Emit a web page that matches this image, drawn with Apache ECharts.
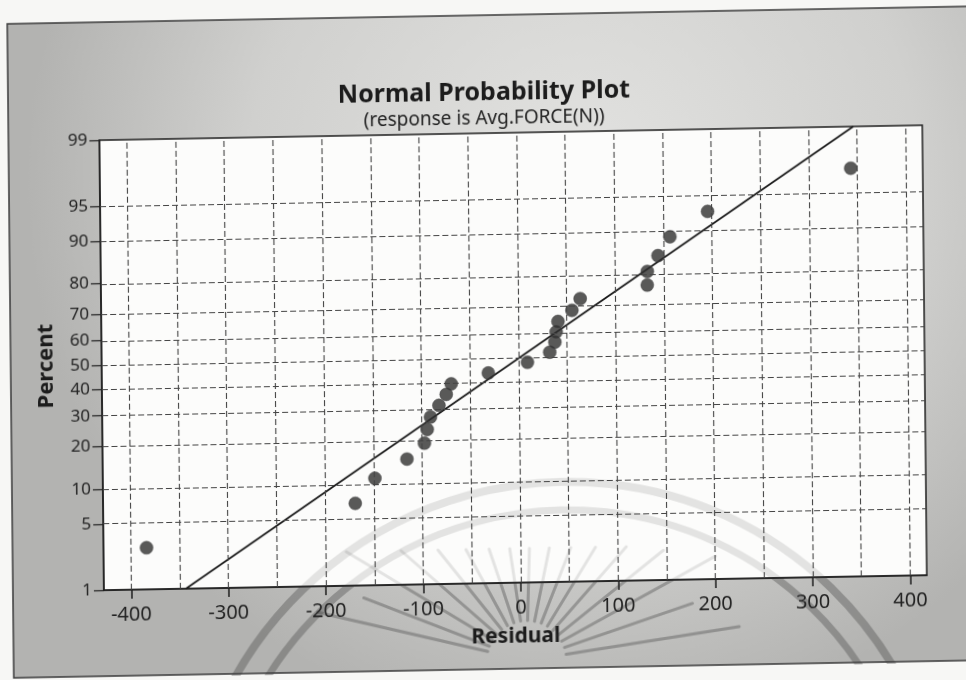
<!DOCTYPE html>
<html>
<head>
<meta charset="utf-8">
<script src="https://cdn.jsdelivr.net/npm/echarts@6/dist/echarts.min.js"></script>
<style>
  html, body { margin: 0; padding: 0; background: #f7f7f5; overflow: hidden; }
  #chart { width: 966px; height: 680px; transform-origin: 0 0; transform: matrix(1, -0.0182, 0.01, 1, 0, 0); }
</style>
</head>
<body>
<div id="chart"></div>
<script>
// Residuals of Avg.FORCE(N), sorted ascending
const residuals = [-383.8, -169.0, -148.6, -115.5, -97.4, -94.4, -90.9, -82.1, -74.5, -69.3, -31.1, 9.2,
                   32.2, 37.6, 39.0, 41.0, 55.4, 64.0, 133.0, 133.2, 144.3, 156.8, 195.7, 343.1];
// Plotting positions (percent) for each residual
const percents = [2.9, 7.0, 11.1, 15.2, 19.3, 23.4, 27.5, 31.6, 35.7, 39.8, 43.9, 48.0,
                  52.0, 56.1, 60.2, 64.3, 68.4, 72.5, 76.6, 80.7, 84.8, 88.9, 93.0, 97.1];
// Axis ticks
const percentTicks = [1, 5, 10, 20, 30, 40, 50, 60, 70, 80, 90, 95, 99];
const residualTicks = [-400, -300, -200, -100, 0, 100, 200, 300, 400];
const residualGrid = [-400, -350, -300, -250, -200, -150, -100, -50, 0, 50, 100, 150, 200, 250, 300, 350, 400];
const residualRange = [-428, 417];

// Inverse standard normal CDF (Acklam) used for the probability scale
function probit(p) {
  const a = [-3.969683028665376e+01, 2.209460984245205e+02, -2.759285104469687e+02, 1.383577518672690e+02, -3.066479806614716e+01, 2.506628277459239e+00];
  const b = [-5.447609879822406e+01, 1.615858368580409e+02, -1.556989798598866e+02, 6.680131188771972e+01, -1.328068155288572e+01];
  const c = [-7.784894002430293e-03, -3.223964580411365e-01, -2.400758277161838e+00, -2.549732539343734e+00, 4.374664141464968e+00, 2.938163982698783e+00];
  const d = [7.784695709041462e-03, 3.224671290700398e-01, 2.445134137142996e+00, 3.754408661907416e+00];
  const pl = 0.02425, ph = 1 - pl;
  let q, r;
  if (p < pl) {
    q = Math.sqrt(-2 * Math.log(p));
    return (((((c[0]*q+c[1])*q+c[2])*q+c[3])*q+c[4])*q+c[5]) / ((((d[0]*q+d[1])*q+d[2])*q+d[3])*q+1);
  }
  if (p > ph) {
    q = Math.sqrt(-2 * Math.log(1 - p));
    return -(((((c[0]*q+c[1])*q+c[2])*q+c[3])*q+c[4])*q+c[5]) / ((((d[0]*q+d[1])*q+d[2])*q+d[3])*q+1);
  }
  q = p - 0.5; r = q * q;
  return (((((a[0]*r+a[1])*r+a[2])*r+a[3])*r+a[4])*r+a[5])*q / (((((b[0]*r+b[1])*r+b[2])*r+b[3])*r+b[4])*r+1);
}
const z = pct => probit(pct / 100);

const zTicks = percentTicks.map(z);
const zMin = z(percentTicks[0]);
const zMax = z(percentTicks[percentTicks.length - 1]);

// Fitted normal line from the residuals' mean and standard deviation
const n = residuals.length;
const mean = residuals.reduce((s, v) => s + v, 0) / n;
const sd = Math.sqrt(residuals.reduce((s, v) => s + (v - mean) * (v - mean), 0) / (n - 1));

const FONT = '"Noto Sans", "Open Sans", sans-serif';
const gridDash = { color: '#444', width: 1.1, type: [6, 3] };

// Faint paper seal stamped across the lower half of the page:
// a stronger layer on the grey page and a lighter wash over the plot
function sealLayer(ink, zIndex) {
  const rays = [8, 18, 28, 38, 48, 58, 68, 78, 88, 98, 108, 118, 128, 138, 148, 158, 166];
  const arcs = [{ r: 380, w: 8 }, { r: 352, w: 7 }].map(a => ({
    type: 'arc', z: zIndex, silent: true,
    shape: { cx: 557, cy: 872, r: a.r, startAngle: Math.PI * 1.04, endAngle: Math.PI * 1.96 },
    style: { stroke: ink, lineWidth: a.w, fill: null }
  }));
  return arcs.concat(rays.map((deg, i) => {
    const t = deg * Math.PI / 180;
    const r0 = 40;
    const r1 = Math.min(i % 2 ? 175 : 215, 112 / Math.max(Math.sin(t), 0.05));
    return {
      type: 'line', z: zIndex, silent: true,
      shape: { x1: 520 + r0 * Math.cos(t), y1: 670 - r0 * Math.sin(t), x2: 520 + r1 * Math.cos(t), y2: 670 - r1 * Math.sin(t) },
      style: { stroke: ink, lineWidth: 3, lineCap: 'round' }
    };
  }));
}

const chart = echarts.init(document.getElementById('chart'), null, { renderer: 'canvas' });

chart.setOption({
  backgroundColor: 'transparent',
  animation: false,
  graphic: [
    {
      type: 'rect', z: -10, silent: true,
      shape: { x: 7, y: 24, width: 990, height: 654 },
      style: {
        fill: {
          type: 'radial', x: 0.58, y: 0.25, r: 0.85,
          colorStops: [
            { offset: 0, color: '#e2e2e0' },
            { offset: 0.6, color: '#d0d0ce' },
            { offset: 1, color: '#b3b3b1' }
          ]
        },
        stroke: '#3a3a3a', lineWidth: 1.5
      }
    }
  ].concat(sealLayer('rgba(60,60,60,0.24)', -5), sealLayer('rgba(60,60,60,0.13)', 50)),
  title: [
    {
      text: 'Normal Probability Plot', left: 'center', top: 84,
      textStyle: { fontFamily: FONT, fontSize: 25, fontWeight: 'bold', color: '#1c1c1c' }
    },
    {
      text: '(response is Avg.FORCE(N))', left: 'center', top: 113,
      textStyle: { fontFamily: FONT, fontSize: 19, fontWeight: 'normal', color: '#222' }
    }
  ],
  grid: {
    left: 98, top: 142, width: 823, height: 450,
    show: true, backgroundColor: '#fcfcfb', borderColor: '#1e1e1e', borderWidth: 1.5
  },
  xAxis: {
    type: 'value', min: residualRange[0], max: residualRange[1],
    name: 'Residual', nameLocation: 'middle', nameGap: 44,
    nameTextStyle: { fontFamily: FONT, fontSize: 21, fontWeight: 'bold', color: '#1c1c1c' },
    axisLine: { show: true, onZero: false, lineStyle: { color: '#1e1e1e', width: 1.5 } },
    axisTick: { show: true, length: 9, customValues: residualTicks, lineStyle: { color: '#1e1e1e', width: 1.5 } },
    axisLabel: { customValues: residualTicks, margin: 15, fontFamily: FONT, fontSize: 20, color: '#222' },
    splitLine: { show: false }
  },
  yAxis: {
    type: 'value', min: zMin, max: zMax,
    name: 'Percent', nameLocation: 'middle', nameRotate: 90, nameGap: 44,
    nameTextStyle: { fontFamily: FONT, fontSize: 22, fontWeight: 'bold', color: '#1c1c1c' },
    axisLine: { show: true, onZero: false, lineStyle: { color: '#1e1e1e', width: 1.5 } },
    axisTick: { show: true, length: 10, customValues: zTicks, lineStyle: { color: '#1e1e1e', width: 1.2 } },
    axisLabel: {
      customValues: zTicks, margin: 12, fontFamily: FONT, fontSize: 17, color: '#222',
      formatter: v => {
        let best = 0;
        zTicks.forEach((t, i) => { if (Math.abs(t - v) < Math.abs(zTicks[best] - v)) best = i; });
        return String(percentTicks[best]);
      }
    },
    splitLine: { show: false }
  },
  series: [
    {
      // dashed reference grid
      type: 'line', data: [], silent: true, z: 1,
      markLine: {
        silent: true, symbol: ['none', 'none'], animation: false,
        label: { show: false },
        lineStyle: gridDash,
        emphasis: { disabled: true },
        data: residualGrid.map(v => ({ xAxis: v })).concat(zTicks.slice(1, -1).map(v => ({ yAxis: v })))
      }
    },
    {
      // fitted normal line
      type: 'line', silent: true, z: 3, symbol: 'none',
      lineStyle: { color: '#1a1a1a', width: 1.8 },
      data: [[mean + zMin * sd, zMin], [mean + zMax * sd, zMax]]
    },
    {
      type: 'scatter', z: 4, symbolSize: 13,
      itemStyle: { color: '#2f2f2f', borderColor: '#454545', borderWidth: 0.6 },
      data: residuals.map((r, i) => [r, z(percents[i])])
    }
  ]
});
</script>
</body>
</html>
